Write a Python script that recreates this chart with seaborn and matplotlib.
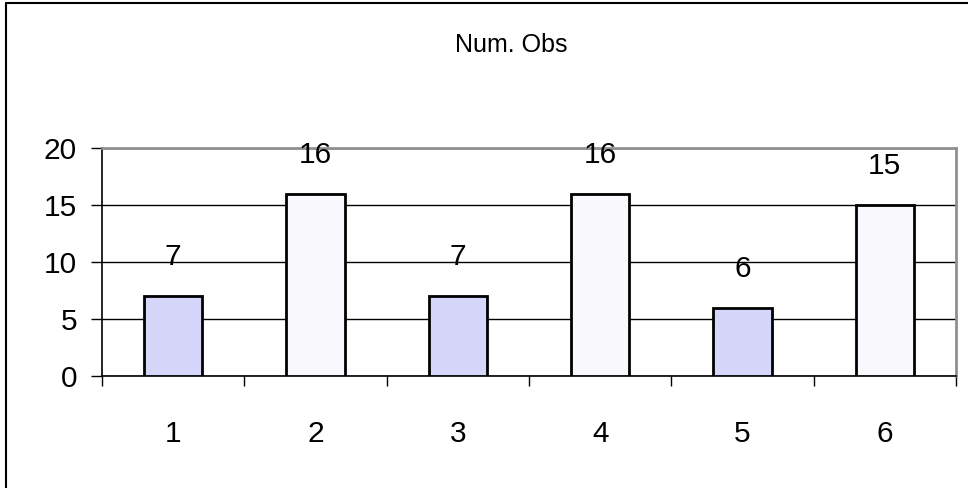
import numpy as np
import pandas as pd
import matplotlib
matplotlib.use("Agg")
import matplotlib.pyplot as plt
from matplotlib.lines import Line2D
import seaborn as sns

# values
categories = ["1", "2", "3", "4", "5", "6"]
counts = [7, 16, 7, 16, 6, 15]
bar_colors = ["#D6D6FA", "#F9F9FD", "#D6D6FA", "#F9F9FD", "#D6D6FA", "#F9F9FD"]
yticks = [0, 5, 10, 15, 20]
title = "Num. Obs"

df = pd.DataFrame({"cat": categories, "n": counts})

sns.set_style("white")
plt.rcParams["font.family"] = ["Liberation Sans", "DejaVu Sans"]
plt.rcParams["text.color"] = "black"
plt.rcParams["xtick.color"] = "black"
plt.rcParams["ytick.color"] = "black"

fig = plt.figure(figsize=(9.68, 4.88), dpi=100)
ax = fig.add_axes([102 / 968, 1 - 376 / 488, (956 - 102) / 968, (376 - 148) / 488])

sns.barplot(data=df, x="cat", y="n", hue="cat", palette=bar_colors, legend=False,
            width=0.41, edgecolor="black", linewidth=2, saturation=1, ax=ax, zorder=3)

for c in ax.containers:
    ax.bar_label(c, padding=18, fontsize=21.5, color="black")

ax.set_ylim(0, 20)
ax.set_xlim(-0.5, 5.5)
ax.set_yticks(yticks)
ax.yaxis.grid(True, color="black", linewidth=1)
ax.set_axisbelow(True)
ax.set_xlabel("")
ax.set_ylabel("")

# category boundaries carry the tick marks
ax.set_xticks(np.arange(-0.5, 6, 1), minor=True)
ax.tick_params(axis="x", which="minor", bottom=True, length=7.5, width=1, color="black", direction="out")
ax.tick_params(axis="x", which="major", bottom=False, length=0, labelsize=21.5, pad=32,
               labelcolor="black")
ax.tick_params(axis="y", left=True, length=8, width=1, color="black", direction="out",
               labelsize=21.5, pad=10, labelcolor="black")

for side in ["left", "bottom"]:
    ax.spines[side].set_color("black")
    ax.spines[side].set_linewidth(1.2)
for side in ["top", "right"]:
    ax.spines[side].set_color("#909090")
    ax.spines[side].set_linewidth(2)

fig.text(511 / 968, 1 - 45 / 488, title, ha="center", va="center", fontsize=18, color="black")

# outer chart frame (only left and top edges visible)
fig.add_artist(Line2D([6 / 968, 6 / 968], [0, 1 - 3 / 488], transform=fig.transFigure,
                      color="black", linewidth=1.5))
fig.add_artist(Line2D([6 / 968, 1], [1 - 3 / 488, 1 - 3 / 488], transform=fig.transFigure,
                      color="black", linewidth=1.5))

fig.savefig("out.png", dpi=100)
